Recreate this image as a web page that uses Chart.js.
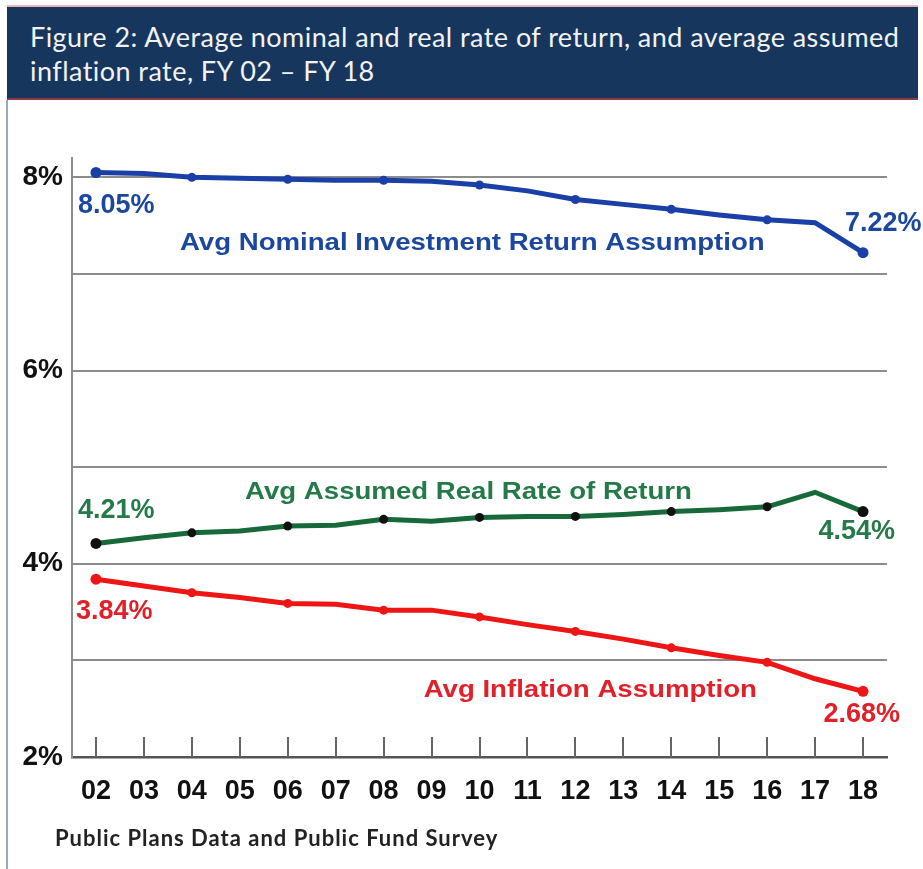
<!DOCTYPE html>
<html>
<head>
<meta charset="utf-8">
<script src="https://cdn.jsdelivr.net/npm/chart.js@4"></script>
<style>
  body { margin: 0; background: #fff; }
  #wrap { position: relative; width: 923px; height: 869px; overflow: hidden; }
  #banner {
    position: absolute; left: 7px; top: 5px; width: 911px; height: 95px;
    background: #17365d; border-top: 2px solid #e9b4b8; border-bottom: 2px solid #8a3a4a;
    box-sizing: border-box;
  }
  #title {
    position: absolute; left: 30px; top: 20px; color: #f2f2f2;
    font-family: Lato, "Open Sans", sans-serif; font-size: 27px; line-height: 34px;
    letter-spacing: 0.45px; white-space: nowrap;
  }
  #leftline { position: absolute; left: 6px; top: 100px; width: 2px; height: 769px; background: #9aa8c0; }
  #note {
    position: absolute; left: 55px; top: 824px; color: #222;
    font-family: Lato, "Open Sans", sans-serif; font-weight: bold; font-size: 22px;
    letter-spacing: 1px; white-space: nowrap;
  }
  #chartBox { position: absolute; left: 0; top: 0; width: 923px; height: 869px; }
</style>
</head>
<body>
<div id="wrap">
  <div id="chartBox"><canvas id="rateChart"></canvas></div>
  <div id="banner"></div>
  <div id="title">Figure 2: Average nominal and real rate of return, and average assumed<br>inflation rate, FY 02 &ndash; FY 18</div>
  <div id="leftline"></div>
  <div id="note">Public Plans Data and Public Fund Survey</div>
</div>
<script>
const years = ["02","03","04","05","06","07","08","09","10","11","12","13","14","15","16","17","18"];
const nominal = [8.05, 8.04, 8.00, 7.99, 7.98, 7.97, 7.97, 7.96, 7.92, 7.86, 7.77, 7.72, 7.67, 7.61, 7.56, 7.53, 7.22];
const realReturn = [4.21, 4.27, 4.32, 4.34, 4.39, 4.40, 4.46, 4.44, 4.48, 4.49, 4.49, 4.51, 4.54, 4.56, 4.59, 4.74, 4.54];
const inflation = [3.84, 3.77, 3.70, 3.65, 3.59, 3.58, 3.52, 3.52, 3.45, 3.37, 3.30, 3.22, 3.13, 3.05, 2.98, 2.81, 2.68];
const yTickValues = [2, 3, 4, 5, 6, 7, 8];

const blueLine = "#1a3fa6", blueText = "#1c479f";
const greenLine = "#17693a", greenText = "#247a48";
const redLine = "#ee1515", redText = "#e2202a";

// markers only on even years, a bit bigger at the ends
function radii(n) {
    return years.map((y, i) => (i == 0 || i == n - 1) ? 5.5 : (i % 2 == 0 ? 4.5 : 0));
}

// text placed on the chart: [text, colour, x index, y value, dx, dy, align, font]
const valueFont = 'bold 27px "Liberation Sans", Arial, sans-serif';
const nameFont = 'bold 24px "Liberation Sans", Arial, sans-serif';
const notes = [
    ["8.05%", blueText, 0, nominal[0], -18, 33, "left", valueFont],
    ["7.22%", blueText, 16, nominal[16], -18, -29, "left", valueFont],
    ["4.21%", greenText, 0, realReturn[0], -18, -33, "left", valueFont],
    ["4.54%", greenText, 16, realReturn[16], 32, 20, "right", valueFont],
    ["3.84%", redText, 0, inflation[0], -20, 32, "left", valueFont],
    ["2.68%", redText, 16, inflation[16], 37, 23, "right", valueFont],
    ["Avg Nominal Investment Return Assumption", blueText, 7.85, 7.32, 0, 0, "center", nameFont],
    ["Avg Assumed Real Rate of Return", greenText, 7.77, 4.74, 0, 0, "center", nameFont],
    ["Avg Inflation Assumption", redText, 10.31, 2.69, 0, 0, "center", nameFont]
];

const extras = {
    id: "extras",
    afterDraw(chart) {
        const ctx = chart.ctx, xs = chart.scales.x, ys = chart.scales.y;
        const bottom = chart.chartArea.bottom;
        ctx.save();
        // little upward ticks on the x axis
        ctx.strokeStyle = "#666";
        ctx.lineWidth = 2;
        years.forEach((y, i) => {
            const px = Math.round(xs.getPixelForValue(i));
            ctx.beginPath();
            ctx.moveTo(px, bottom - 20);
            ctx.lineTo(px, bottom);
            ctx.stroke();
        });
        ctx.textBaseline = "middle";
        notes.forEach(n => {
            const px = xs.getPixelForValue(n[2]) + n[4];
            const py = ys.getPixelForValue(n[3]) + n[5];
            ctx.fillStyle = n[1];
            ctx.font = n[7];
            ctx.textAlign = n[6];
            ctx.save();
            ctx.translate(px, py);
            if (n[7] == nameFont) ctx.scale(1.15, 1);
            ctx.fillText(n[0], 0, 0);
            ctx.restore();
        });
        ctx.restore();
    }
};

new Chart("rateChart", {
    type: "line",
    data: {
        labels: years,
        datasets: [
            { data: nominal, borderColor: blueLine, backgroundColor: blueLine, pointBackgroundColor: blueLine,
              pointBorderWidth: 0, pointRadius: radii(17), borderWidth: 5 },
            { data: realReturn, borderColor: greenLine, backgroundColor: "#111", pointBackgroundColor: "#111",
              pointBorderWidth: 0, pointRadius: radii(17), borderWidth: 5 },
            { data: inflation, borderColor: redLine, backgroundColor: redLine, pointBackgroundColor: redLine,
              pointBorderWidth: 0, pointRadius: radii(17), borderWidth: 5 }
        ]
    },
    options: {
        responsive: true,
        maintainAspectRatio: false,
        animation: false,
        layout: { padding: { left: 0, right: 36, top: 158, bottom: 52 } },
        plugins: { legend: { display: false }, tooltip: { enabled: false } },
        scales: {
            x: {
                offset: true,
                grid: { display: false, drawTicks: false },
                border: { display: true, color: "#555", width: 2.5 },
                ticks: { color: "#111", padding: 18, autoSkip: false, maxRotation: 0,
                         font: { family: '"Liberation Sans", Arial', size: 27, weight: "bold" } },
                afterFit(s) { s.height = 60; }
            },
            y: {
                min: 2,
                max: 8.2,
                afterBuildTicks(s) { s.ticks = yTickValues.map(v => ({ value: v })); },
                grid: { color: "#8c8c8c", lineWidth: 2, drawTicks: false },
                border: { display: true, color: "#8c8c8c", width: 2 },
                ticks: { color: "#111", padding: 9,
                         font: { family: '"Liberation Sans", Arial', size: 28, weight: "bold" },
                         callback: v => (v % 2 == 0 ? v + "%" : "") },
                afterFit(s) { s.width = 72; }
            }
        }
    },
    plugins: [extras]
});
</script>
</body>
</html>
